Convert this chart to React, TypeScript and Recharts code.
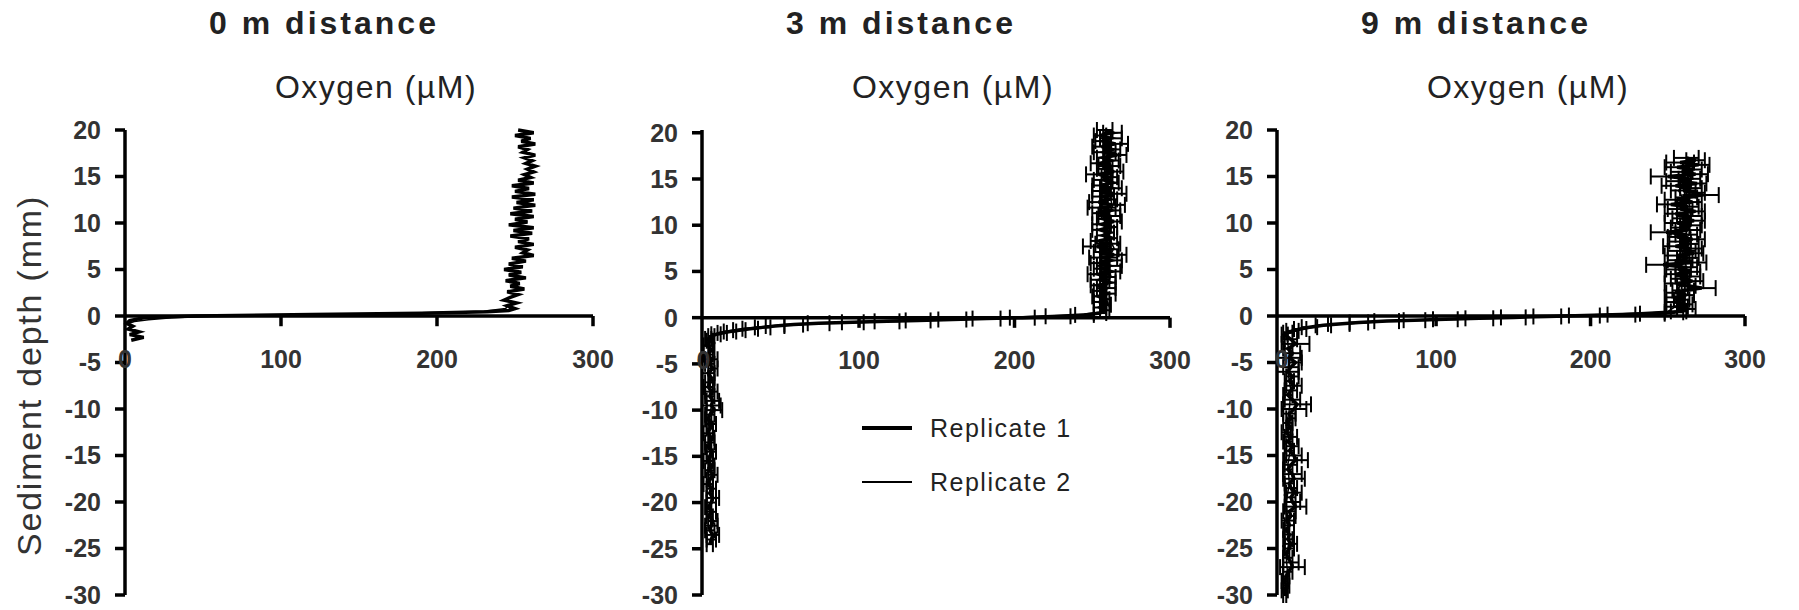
import React from 'react';
import {
  ScatterChart,
  Scatter,
  XAxis,
  YAxis,
  ErrorBar,
  ReferenceLine,
  ReferenceDot,
  Legend,
} from 'recharts';

const FONT = '"Liberation Sans", Arial, sans-serif';

const depthTicks = [-30, -25, -20, -15, -10, -5, 0, 5, 10, 15, 20];
const oxygenTicks = [0, 100, 200, 300];
const titles = ['0 m distance', '3 m distance', '9 m distance'];
const seriesNames = ['Replicate 1', 'Replicate 2'];

// each entry: [depth (mm), oxygen (µM), sd]
type Pt = [number, number, number?];

// ---- 0 m distance ----
const m0Rep1: Pt[] = [
  [20.0, 252], [19.7, 262], [19.4, 250], [19.1, 260], [18.8, 254], [18.5, 263], [18.2, 252], [17.9, 258],
  [17.6, 255], [17.3, 263], [17.0, 256], [16.7, 261], [16.4, 257], [16.1, 263], [15.8, 258], [15.5, 262],
  [15.2, 256], [14.9, 260], [14.6, 252], [14.3, 262], [14.0, 248], [13.7, 259], [13.4, 250], [13.1, 263],
  [12.8, 248], [12.5, 262], [12.2, 251], [11.9, 263], [11.6, 249], [11.3, 261], [11.0, 247], [10.7, 262],
  [10.4, 250], [10.1, 258], [9.8, 246], [9.5, 262], [9.2, 249], [8.9, 261], [8.6, 247], [8.3, 259],
  [8.0, 252], [7.7, 262], [7.4, 250], [7.1, 258], [6.8, 255], [6.5, 262], [6.2, 248], [5.9, 257],
  [5.6, 246], [5.3, 255], [5.0, 243], [4.7, 254], [4.4, 246], [4.1, 257], [3.8, 244], [3.5, 253],
  [3.2, 247], [2.9, 256], [2.6, 245], [2.3, 252], [2.0, 247], [1.7, 243], [1.4, 251], [1.1, 245],
  [0.8, 250], [0.6, 246], [0.45, 232], [0.3, 190], [0.15, 120], [0, 45], [-0.2, 12], [-0.5, 3],
  [-0.8, 1], [-1.1, 5], [-1.4, 2], [-1.7, 9], [-2.0, 3], [-2.3, 12], [-2.6, 4],
];
const m0Rep2: Pt[] = [
  [1.2, 246], [0.8, 244], [0.5, 230], [0.2, 150], [0, 60], [-0.2, 30], [-0.4, 15], [-0.6, 6], [-0.8, 2],
];

// ---- 3 m distance ----
const m3Rep1Water: Pt[] = [
  [20.3, 258, 5], [20.0, 263, 6], [19.7, 255, 4], [19.4, 262, 7], [19.1, 257, 5], [18.8, 265, 8], [18.5, 256, 6],
  [18.2, 263, 5], [17.9, 258, 7], [17.6, 266, 6], [17.3, 257, 4], [17.0, 262, 5], [16.7, 255, 6], [16.4, 261, 7],
  [16.1, 258, 5], [15.8, 264, 6], [15.5, 254, 8], [15.2, 261, 5], [14.9, 257, 6], [14.6, 263, 4], [14.3, 255, 5],
  [14.0, 262, 7], [13.7, 256, 6], [13.4, 264, 8], [13.1, 257, 7], [12.8, 261, 5], [12.5, 254, 6], [12.2, 263, 8],
  [11.9, 256, 9], [11.6, 262, 6], [11.3, 255, 5], [11.0, 261, 7], [10.7, 257, 4], [10.4, 264, 5], [10.1, 256, 6],
  [9.8, 262, 4], [9.5, 255, 5], [9.2, 261, 3], [8.9, 257, 4], [8.6, 263, 3], [8.3, 254, 5], [8.0, 260, 8],
  [7.7, 253, 9], [7.4, 261, 6], [7.1, 256, 5], [6.8, 264, 8], [6.5, 257, 9], [6.2, 262, 7], [5.9, 255, 6],
  [5.6, 261, 8], [5.3, 256, 5], [5.0, 262, 6], [4.7, 254, 7], [4.4, 260, 5], [4.1, 255, 6], [3.8, 261, 4],
  [3.5, 254, 5], [3.2, 259, 6], [2.9, 255, 4], [2.6, 260, 5], [2.3, 254, 4], [2.0, 258, 3], [1.7, 255, 4],
  [1.4, 259, 3], [1.1, 255, 4], [0.8, 258, 3],
];
const m3Rep1Drop: Pt[] = [
  [0.5, 255, 4], [0.3, 245, 6], [0.15, 228, 8], [0, 205, 8], [-0.1, 182, 9], [-0.2, 160, 9], [-0.3, 138, 8],
  [-0.4, 118, 8], [-0.5, 96, 7], [-0.6, 74, 7], [-0.75, 58, 6], [-0.9, 46, 6], [-1.05, 38, 5], [-1.2, 30, 5],
  [-1.35, 23, 4], [-1.5, 17, 4], [-1.65, 12, 3], [-1.8, 8, 3], [-2.0, 5, 2], [-2.3, 3, 2],
];
const m3Rep1Sed: Pt[] = [
  [-2.5, 4, 2], [-3.0, 3, 3], [-3.5, 5, 2], [-4.0, 3, 3], [-4.5, 5, 4], [-5.0, 4, 3], [-5.5, 6, 3], [-6.0, 3, 4],
  [-6.5, 5, 2], [-7.0, 4, 3], [-7.5, 3, 3], [-8.0, 5, 4], [-8.5, 4, 3], [-9.0, 6, 4], [-9.5, 5, 6], [-10.0, 7, 5],
  [-10.5, 4, 3], [-11.0, 3, 2], [-11.5, 5, 3], [-12.0, 4, 2], [-12.5, 3, 3], [-13.0, 5, 2], [-13.5, 4, 3],
  [-14.0, 3, 2], [-14.5, 5, 3], [-15.0, 4, 2], [-15.5, 3, 3], [-16.0, 5, 2], [-16.5, 4, 3], [-17.0, 6, 3],
  [-17.5, 4, 2], [-18.0, 3, 3], [-18.5, 5, 3], [-19.0, 4, 2], [-19.5, 6, 4], [-20.0, 5, 3], [-20.5, 3, 2],
  [-21.0, 5, 3], [-21.5, 4, 2], [-22.0, 6, 3], [-22.5, 5, 4], [-23.0, 4, 3], [-23.5, 6, 4], [-24.0, 5, 3],
  [-24.5, 4, 2],
];
const m3Rep2: Pt[] = [
  [19.5, 260], [18, 258], [16.5, 262], [15, 259], [13.5, 261], [12, 263], [10.5, 258], [9, 260], [7.5, 264],
  [6, 259], [4.5, 262], [3, 258], [1.5, 260], [0.6, 256], [0.3, 240], [0, 190], [-0.3, 120], [-0.6, 70],
  [-0.9, 42], [-1.2, 24], [-1.6, 10], [-2.0, 4], [-3, 3], [-5, 5], [-7, 4], [-9, 6], [-11, 3], [-13, 4],
  [-15, 5], [-17, 3], [-19, 6], [-21, 4], [-23, 5],
];

// ---- 9 m distance ----
const m9Rep1Water: Pt[] = [
  [17.0, 262, 8], [16.75, 268, 6], [16.5, 258, 9], [16.25, 270, 7], [16.0, 256, 8], [15.75, 266, 6], [15.5, 259, 7],
  [15.25, 268, 8], [15.0, 250, 11], [14.75, 264, 7], [14.5, 257, 8], [14.25, 269, 6], [14.0, 255, 9], [13.75, 265, 7],
  [13.5, 260, 8], [13.25, 268, 6], [13.0, 272, 11], [12.75, 262, 7], [12.5, 256, 8], [12.25, 266, 6], [12.0, 252, 9],
  [11.75, 263, 7], [11.5, 258, 8], [11.25, 268, 6], [11.0, 255, 7], [10.75, 264, 8], [10.5, 259, 6], [10.25, 267, 7],
  [10.0, 256, 8], [9.75, 265, 7], [9.5, 258, 6], [9.25, 263, 8], [9.0, 249, 10], [8.75, 262, 7], [8.5, 256, 6],
  [8.25, 266, 8], [8.0, 258, 7], [7.75, 264, 6], [7.5, 255, 8], [7.25, 265, 7], [7.0, 259, 9], [6.75, 267, 6],
  [6.5, 256, 8], [6.25, 263, 7], [6.0, 258, 8], [5.75, 266, 9], [5.5, 247, 11], [5.25, 262, 7], [5.0, 257, 8],
  [4.75, 265, 6], [4.5, 255, 7], [4.25, 263, 8], [4.0, 258, 6], [3.75, 266, 7], [3.5, 256, 8], [3.25, 262, 6],
  [3.0, 272, 9], [2.75, 260, 7], [2.5, 255, 6], [2.25, 262, 5], [2.0, 254, 6], [1.75, 259, 5], [1.5, 255, 6],
  [1.25, 261, 5], [1.0, 256, 7], [0.75, 262, 6], [0.5, 257, 5],
];
const m9Rep1Drop: Pt[] = [
  [0.4, 254, 6], [0.25, 240, 8], [0.15, 220, 9], [0.05, 196, 10], [-0.05, 172, 9], [-0.15, 150, 8], [-0.25, 128, 9],
  [-0.35, 106, 8], [-0.45, 86, 7], [-0.55, 68, 8], [-0.7, 50, 6], [-0.85, 37, 7], [-1.0, 27, 5], [-1.2, 18, 5],
  [-1.4, 12, 4], [-1.6, 7, 4], [-1.8, 4, 3], [-2.0, 2, 2],
];
const m9Rep1Sed: Pt[] = [
  [-2.5, 6, 4], [-3.0, 9, 9], [-3.5, 4, 3], [-4.0, 7, 5], [-4.5, 5, 8], [-5.0, 9, 4], [-5.5, 6, 5], [-6.0, 4, 7],
  [-6.5, 7, 4], [-7.0, 5, 3], [-7.5, 8, 5], [-8.0, 6, 4], [-8.5, 4, 3], [-9.0, 7, 5], [-9.5, 10, 9], [-10.0, 8, 8],
  [-10.5, 5, 4], [-11.0, 6, 3], [-11.5, 4, 3], [-12.0, 5, 2], [-12.5, 3, 3], [-13.0, 6, 4], [-13.5, 4, 3],
  [-14.0, 7, 4], [-14.5, 5, 3], [-15.0, 8, 5], [-15.5, 9, 8], [-16.0, 6, 4], [-16.5, 4, 3], [-17.0, 7, 6],
  [-17.5, 8, 7], [-18.0, 5, 3], [-18.5, 6, 4], [-19.0, 8, 5], [-19.5, 6, 3], [-20.0, 7, 5], [-20.5, 9, 7],
  [-21.0, 5, 4], [-21.5, 6, 3], [-22.0, 4, 4], [-22.5, 5, 3], [-23.0, 3, 2], [-23.5, 5, 3], [-24.0, 4, 3],
  [-24.5, 6, 4], [-25.0, 5, 3], [-25.5, 3, 2], [-26.0, 4, 3], [-26.5, 6, 5], [-27.0, 7, 8], [-27.5, 4, 3],
  [-28.0, 3, 2], [-28.5, 2, 2], [-29.0, 3, 2], [-29.5, 2, 2], [-30.0, 2, 1],
];
const m9Rep2: Pt[] = [
  [16.5, 259], [15, 264], [13.5, 257], [12, 262], [10.5, 260], [9, 265], [7.5, 258], [6, 261], [4.5, 263],
  [3, 257], [1.5, 260], [0.5, 250], [0.2, 215], [0, 170], [-0.3, 110], [-0.6, 65], [-1.0, 28], [-1.5, 10],
  [-2.0, 3], [-4, 5], [-6, 4], [-8, 6], [-10, 5], [-12, 3], [-14, 6], [-16, 4], [-18, 5], [-20, 3], [-22, 4],
  [-24, 5], [-26, 3], [-28, 4],
];

type Row = { depth: number; o2: number; err?: number };
const rows = (...parts: Pt[][]): Row[] =>
  parts.flat().map(([depth, o2, err]) => ({ depth, o2, err }));

const panels = [
  {
    title: titles[0], left: 0, width: 620, axisW: 125, yLabel: true, legend: false,
    series: [
      { name: seriesNames[0], data: rows(m0Rep1), sw: 3.5, errors: false },
      { name: seriesNames[1], data: rows(m0Rep2), sw: 1.5, errors: false },
    ],
  },
  {
    title: titles[1], left: 600, width: 600, axisW: 102, yLabel: false, legend: true,
    series: [
      { name: seriesNames[0], data: rows(m3Rep1Water, m3Rep1Drop, m3Rep1Sed), sw: 3.5, errors: true },
      { name: seriesNames[1], data: rows(m3Rep2), sw: 1.5, errors: false },
    ],
  },
  {
    title: titles[2], left: 1175, width: 624, axisW: 102, yLabel: false, legend: false,
    series: [
      { name: seriesNames[0], data: rows(m9Rep1Water, m9Rep1Drop, m9Rep1Sed), sw: 3.5, errors: true },
      { name: seriesNames[1], data: rows(m9Rep2), sw: 1.5, errors: false },
    ],
  },
];

const PLOT_W = 468;
const TOP = 130;
const BOTTOM = 15;
const HEIGHT = 610;
const AXIS_W = 3.5;

const NoDot = () => <g />;

const tickStyle = { fontSize: 25, fontWeight: 700, fill: '#333', fontFamily: FONT };

const LegendBox = ({ payload }: any) => (
  <svg width={260} height={100}>
    {(payload || []).map((p: any, i: number) => (
      <g key={p.value} transform={`translate(0, ${28 + i * 54})`}>
        <line x1={2} x2={52} y1={0} y2={0} stroke="#000" strokeWidth={i === 0 ? 4 : 2} />
        <text x={70} y={9} fontSize={25} fill="#222" fontFamily={FONT} letterSpacing={1.5}>
          {p.value}
        </text>
      </g>
    ))}
  </svg>
);

function Panel({ p }: { p: (typeof panels)[number] }) {
  const right = p.width - p.axisW - PLOT_W;
  const axisX = p.left + p.axisW;
  return (
    <>
      <div
        style={{
          position: 'absolute', left: axisX + 199 - 200, top: 7, width: 400, textAlign: 'center',
          fontFamily: FONT, fontWeight: 700, fontSize: 32, lineHeight: '32px', letterSpacing: 3, color: '#222',
        }}
      >
        {p.title}
      </div>
      <div
        style={{
          position: 'absolute', left: axisX + 251 - 200, top: 71, width: 400, textAlign: 'center',
          fontFamily: FONT, fontSize: 32, lineHeight: '32px', letterSpacing: 1.5, color: '#222',
        }}
      >
        Oxygen (µM)
      </div>
      <div style={{ position: 'absolute', left: p.left, top: 0 }}>
        <ScatterChart width={p.width} height={HEIGHT} margin={{ top: TOP, bottom: BOTTOM, left: 0, right }}>
          <XAxis type="number" dataKey="o2" domain={[0, 300]} ticks={oxygenTicks} hide />
          <YAxis
            type="number"
            dataKey="depth"
            domain={[-30, 20]}
            ticks={depthTicks}
            interval={0}
            width={p.axisW}
            axisLine={{ stroke: '#000', strokeWidth: AXIS_W }}
            tickLine={{ stroke: '#000', strokeWidth: AXIS_W }}
            tickSize={10}
            tickMargin={14}
            tick={tickStyle}
            label={
              p.yLabel
                ? { value: 'Sediment depth (mm)', angle: -90, position: 'center', dx: -34, dy: 13, fontSize: 34, fill: '#333', fontFamily: FONT, letterSpacing: 1.8 }
                : undefined
            }
          />
          <ReferenceLine y={0} stroke="#000" strokeWidth={AXIS_W} />
          {oxygenTicks.slice(1).map((v) => (
            <ReferenceLine
              key={`t${v}`}
              segment={[{ x: v, y: 0 }, { x: v, y: -1.1 }]}
              stroke="#000"
              strokeWidth={AXIS_W}
            />
          ))}
          {oxygenTicks.map((v) => (
            <ReferenceDot
              key={`l${v}`}
              x={v}
              y={-4.6}
              r={0}
              stroke="none"
              fill="none"
              label={{ value: String(v), position: 'center', ...tickStyle }}
            />
          ))}
          {p.series.map((s) => (
            <Scatter
              key={s.name}
              name={s.name}
              data={s.data}
              fill="#000"
              shape={NoDot}
              line={{ stroke: '#000', strokeWidth: s.sw }}
              lineType="joint"
              isAnimationActive={false}
            >
              {s.errors && (
                <ErrorBar dataKey="err" direction="x" width={8} stroke="#000" strokeWidth={2} />
              )}
            </Scatter>
          ))}
          {p.legend && (
            <Legend
              layout="vertical"
              align="center"
              verticalAlign="middle"
              wrapperStyle={{ left: 260, top: 400, width: 260, height: 100 }}
              content={<LegendBox />}
            />
          )}
        </ScatterChart>
      </div>
    </>
  );
}

export default function App() {
  return (
    <div style={{ position: 'absolute', left: 0, top: 0, width: 1799, height: 610, background: '#fff' }}>
      {panels.map((p) => (
        <Panel key={p.title} p={p} />
      ))}
    </div>
  );
}
